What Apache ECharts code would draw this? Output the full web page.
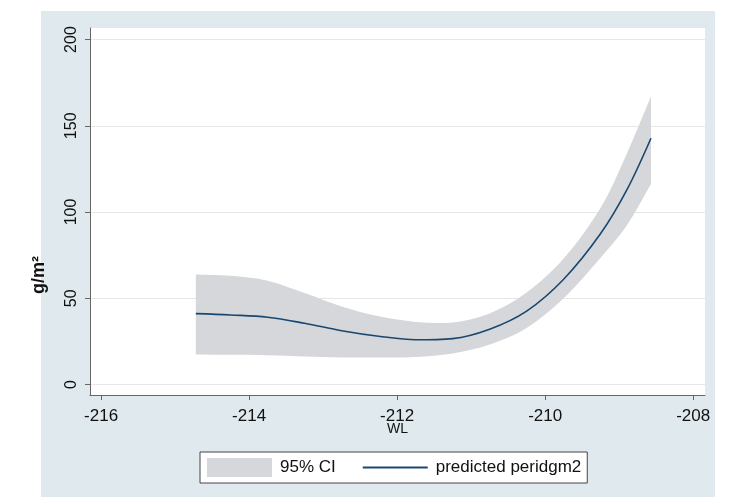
<!DOCTYPE html>
<html>
<head>
<meta charset="utf-8">
<script src="https://cdn.jsdelivr.net/npm/echarts@6/dist/echarts.min.js"></script>
<style>
html,body{margin:0;padding:0;background:#fff;}
#chart{width:729px;height:502px;}
</style>
</head>
<body>
<div id="chart"></div>
<script>
// Data
const wl    = [-214.72, -214.25, -213.75, -213.25, -212.75, -212.25, -211.75, -211.25, -210.75, -210.25, -209.75, -209.25, -208.9, -208.57];
const pred  = [41.1, 40.3, 39.0, 35.5, 31.2, 28.0, 25.9, 26.6, 32.0, 42.5, 61.0, 87.5, 112.5, 142.8];
const upper = [63.8, 63.0, 60.2, 53.0, 45.2, 39.5, 36.3, 36.0, 41.2, 53.3, 73.0, 102.5, 133.5, 167.0];
const lower = [17.4, 17.2, 16.9, 16.2, 15.7, 15.6, 15.9, 18.0, 23.2, 32.8, 50.0, 73.5, 92.0, 116.3];
const xTicks = [-216, -214, -212, -210, -208];
const yTicks = [0, 50, 100, 150, 200];
const ciName = '95% CI';
const lineName = 'predicted peridgm2';

const FONT = '"Liberation Sans", Arial, Helvetica, sans-serif';
const bandColor = '#d5d7da';
const lineColor = '#1a476f';

function smoothSeg(pts) {
  let d = '';
  for (let i = 0; i < pts.length - 1; i++) {
    const p0 = pts[Math.max(i - 1, 0)], p1 = pts[i], p2 = pts[i + 1], p3 = pts[Math.min(i + 2, pts.length - 1)];
    const c1 = [p1[0] + (p2[0] - p0[0]) / 6, p1[1] + (p2[1] - p0[1]) / 6];
    const c2 = [p2[0] - (p3[0] - p1[0]) / 6, p2[1] - (p3[1] - p1[1]) / 6];
    d += 'C' + c1[0] + ',' + c1[1] + ' ' + c2[0] + ',' + c2[1] + ' ' + p2[0] + ',' + p2[1];
  }
  return d;
}

const chart = echarts.init(document.getElementById('chart'), null, {renderer: 'canvas'});
chart.setOption({
  backgroundColor: '#ffffff',
  animation: false,
  textStyle: {fontFamily: FONT},
  graphic: [{
    type: 'rect', z: -100, silent: true,
    shape: {x: 41, y: 11, width: 674, height: 486},
    style: {fill: '#e0e9ed'}
  }],
  grid: {
    left: 90, right: 24, top: 28, bottom: 107,
    show: true, backgroundColor: '#ffffff', borderWidth: 0
  },
  legend: {
    left: 200, top: 452,
    padding: [6, 6, 6, 7],
    borderColor: '#444', borderWidth: 1, borderRadius: 0,
    backgroundColor: '#ffffff',
    itemWidth: 65, itemHeight: 19, itemGap: 26,
    textStyle: {fontSize: 17, color: '#111', fontFamily: FONT, padding: [0, 0, 0, 3]},
    data: [
      {name: ciName, icon: 'rect', itemStyle: {color: bandColor}},
      {name: lineName, itemStyle: {opacity: 0, borderWidth: 0}}
    ]
  },
  xAxis: {
    type: 'value',
    min: -216.15, max: -207.84,
    name: 'WL', nameLocation: 'middle', nameGap: 27, nameMoveOverlap: false,
    nameTextStyle: {fontSize: 14, color: '#111', fontFamily: FONT},
    axisLine: {show: true, onZero: false, lineStyle: {color: '#666', width: 1}},
    axisTick: {show: true, length: 5, customValues: xTicks, lineStyle: {color: '#666'}},
    axisLabel: {customValues: xTicks, fontSize: 17, color: '#111', margin: 13, fontFamily: FONT},
    splitLine: {show: false}
  },
  yAxis: {
    type: 'value',
    min: -6.1, max: 206.7,
    name: 'g/m²', nameLocation: 'middle', nameRotate: 90, nameGap: 42, nameMoveOverlap: false,
    nameTextStyle: {fontSize: 18, fontWeight: 'bold', color: '#111', fontFamily: FONT, padding: [0, 127, 0, 0]},
    axisLine: {show: true, onZero: false, lineStyle: {color: '#666', width: 1}},
    axisTick: {show: true, length: 5, customValues: yTicks, lineStyle: {color: '#666'}},
    axisLabel: {customValues: yTicks, rotate: 90, fontSize: 16, color: '#111', margin: 10, fontFamily: FONT},
    splitLine: {show: true, lineStyle: {color: '#e6e6e6', width: 1}}
  },
  series: [
    {
      name: ciName,
      type: 'custom',
      coordinateSystem: 'cartesian2d',
      itemStyle: {color: bandColor},
      encode: {x: 0, y: [1, 2]},
      data: wl.map((x, i) => [x, lower[i], upper[i]]),
      z: 1,
      renderItem: function (params, api) {
        if (params.dataIndex !== 0) return null;
        const up = wl.map((x, i) => api.coord([x, upper[i]]));
        const lo = wl.map((x, i) => api.coord([x, lower[i]])).reverse();
        const d = 'M' + up[0][0] + ',' + up[0][1] + smoothSeg(up) +
                  'L' + lo[0][0] + ',' + lo[0][1] + smoothSeg(lo) + 'Z';
        return {
          type: 'path',
          shape: {pathData: d},
          style: {fill: bandColor, stroke: null}
        };
      }
    },
    {
      name: lineName,
      type: 'line',
      data: wl.map((x, i) => [x, pred[i]]),
      smooth: 0.35,
      symbol: 'none',
      z: 3,
      lineStyle: {color: lineColor, width: 1.6},
      itemStyle: {color: lineColor}
    }
  ]
});
</script>
</body>
</html>
